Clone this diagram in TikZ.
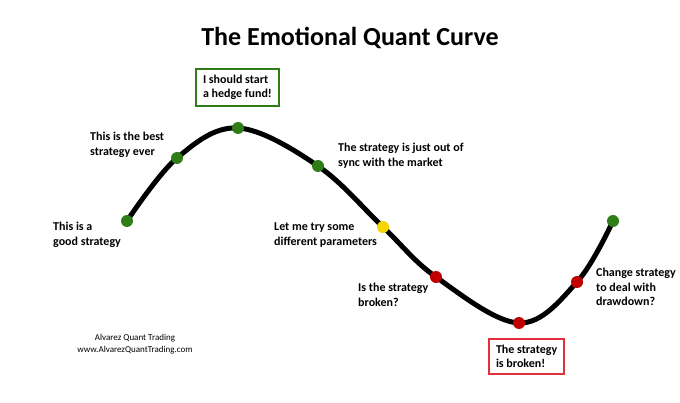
\documentclass[tikz,border=0pt]{standalone}
\usepackage{fontspec}
\setmainfont{Carlito}
\definecolor{dgreen}{HTML}{2E7D17}
\definecolor{dyellow}{HTML}{F7D500}
\definecolor{dred}{HTML}{C00000}
\definecolor{bred}{HTML}{E2303C}
\begin{document}
\begin{tikzpicture}[x=1pt,y=-1pt,
  lbl/.style={anchor=north west,inner sep=0pt,align=left,font=\bfseries\fontsize{12}{14.5}\selectfont},
  boxlbl/.style={draw,line width=2pt,anchor=north west,inner xsep=7pt,inner ysep=6pt,align=left,font=\bfseries\fontsize{12}{14.5}\selectfont},
  dot/.style={circle,inner sep=0pt,minimum size=12pt,fill=#1}]
\useasboundingbox[fill=white] (0,0) rectangle (680,403);
\node[font=\bfseries\fontsize{26}{30}\selectfont] (title) at (350,38) {The Emotional Quant Curve};
\coordinate (c1) at (127,221);
\coordinate (c2) at (177,158);
\coordinate (c3) at (238,128);
\coordinate (c4) at (318,166);
\coordinate (c5) at (383,227);
\coordinate (c6) at (436,277);
\coordinate (c7) at (519,323);
\coordinate (c8) at (577,282);
\coordinate (c9) at (613,221);
\draw[line width=5pt] plot[smooth,tension=0.6] coordinates {(c1) (c2) (c3) (c4) (c5) (c6) (c7) (c8) (c9)};
\node[dot=dgreen] (d1) at (c1) {};
\node[dot=dgreen] (d2) at (c2) {};
\node[dot=dgreen] (d3) at (c3) {};
\node[dot=dgreen] (d4) at (c4) {};
\node[dot=dyellow] (d5) at (c5) {};
\node[dot=dred] (d6) at (c6) {};
\node[dot=dred] (d7) at (c7) {};
\node[dot=dred] (d8) at (c8) {};
\node[dot=dgreen] (d9) at (c9) {};
\node[lbl] (l1) at (53,222) {This is a\\good strategy};
\node[lbl] (l2) at (90,132) {This is the best\\strategy ever};
\node[boxlbl,draw=dgreen] (l3) at (195,68) {I should start\\a hedge fund!};
\node[lbl] (l4) at (338,143) {The strategy is just out of\\sync with the market};
\node[lbl] (l5) at (274,223) {Let me try some\\different parameters};
\node[lbl] (l6) at (358,283) {Is the strategy\\broken?};
\node[boxlbl,draw=bred] (l7) at (488,338) {The strategy\\is broken!};
\node[lbl] (l8) at (596,268) {Change strategy\\to deal with\\drawdown?};
\node[align=center,inner sep=0pt,font=\fontsize{9}{11.5}\selectfont] (foot) at (135,344) {Alvarez Quant Trading\\www.AlvarezQuantTrading.com};
\end{tikzpicture}
\end{document}
